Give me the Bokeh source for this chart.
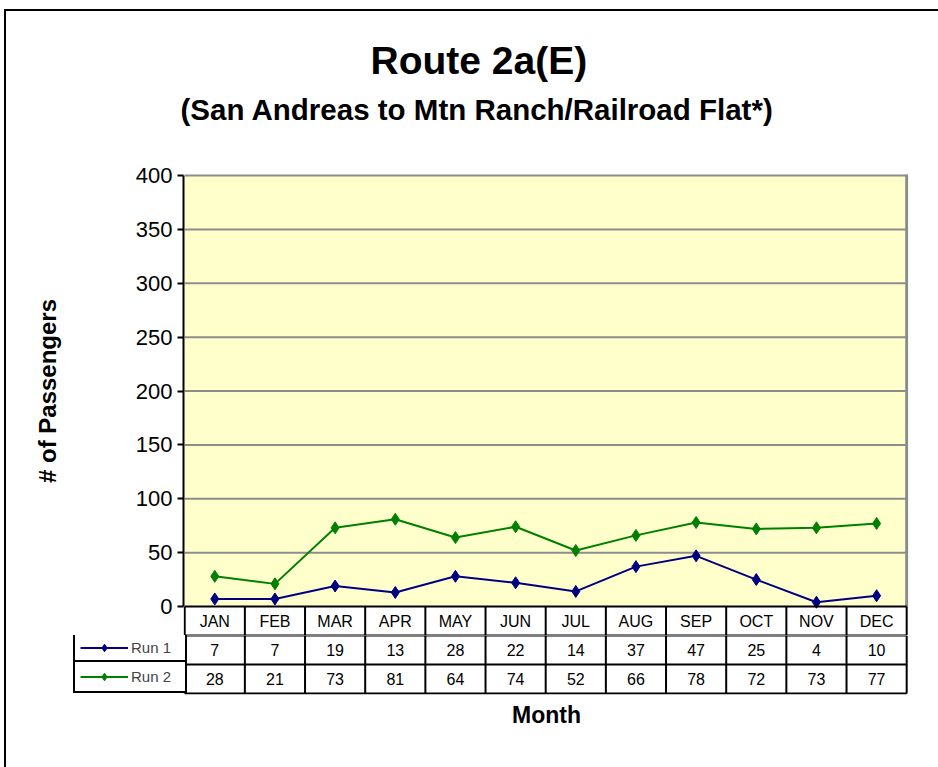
from bokeh.plotting import figure
from bokeh.layouts import column
from bokeh.models import (Range1d, FixedTicker, Legend, LegendItem, ColumnDataSource, LinearAxis, Title)
from bokeh.core.properties import value
from bokeh.embed import file_html
from bokeh.resources import INLINE

# ---------------- data ----------------
months = ["JAN", "FEB", "MAR", "APR", "MAY", "JUN", "JUL", "AUG", "SEP", "OCT", "NOV", "DEC"]
run1 = [7, 7, 19, 13, 28, 22, 14, 37, 47, 25, 4, 10]
run2 = [28, 21, 73, 81, 64, 74, 52, 66, 78, 72, 73, 77]
series_names = ["Run 1", "Run 2"]
series_colors = ["#000080", "#008000"]
y_ticks = [0, 50, 100, 150, 200, 250, 300, 350, 400]
title_text = "Route 2a(E)"
subtitle_text = "(San Andreas to Mtn Ranch/Railroad Flat*)"
y_label = "# of Passengers"
x_label = "Month"

FONT = "Liberation Sans"
n = len(months)
xs = [i + 0.5 for i in range(n)]
series = [run1, run2]

# ---------------- geometry ----------------
W, H = 938, 767
PLOT_L, PLOT_R = 183, 908          # plot area left/right (px)
PLOT_T, PLOT_B = 175, 606          # plot area top/bottom (px)
ROW_PX = 29                        # table row height (px)
LEG_L = 73                         # left edge of the legend column (px)
Y_MAX = y_ticks[-1]
PX_PER_Y = (PLOT_B - PLOT_T) / Y_MAX
ROW = ROW_PX / PX_PER_Y            # table row height in y units
X_MIN, X_MAX = -0.02, n + 0.03
PX_PER_X = (PLOT_R - PLOT_L) / (X_MAX - X_MIN)

TOP_H = PLOT_B + ROW_PX            # top figure ends under the header row
BOT_H = H - TOP_H
GRID = "#8c8c8c"

# ---------------- top figure: plot + month header row ----------------
# the frame reaches one row above the plot area so that it is centred on the plot area
p = figure(width=W, height=TOP_H, output_backend="svg", toolbar_location=None,
           x_range=Range1d(X_MIN, X_MAX), y_range=Range1d(-ROW, Y_MAX + ROW),
           min_border_left=PLOT_L, min_border_right=W - PLOT_R,
           min_border_top=PLOT_T - ROW_PX, min_border_bottom=0,
           x_axis_location=None, tools="")
p.background_fill_color = "white"
p.border_fill_color = None
p.outline_line_color = None

ya = p.yaxis[0]
ya.ticker = FixedTicker(ticks=y_ticks)
ya.bounds = (0, Y_MAX)
ya.axis_line_color = "black"
ya.axis_line_width = 2
ya.major_tick_line_color = "black"
ya.major_tick_line_width = 2
ya.major_tick_in = 0
ya.major_tick_out = 6
ya.minor_tick_line_color = None
ya.major_label_text_font = FONT
ya.major_label_text_font_size = "22px"
ya.major_label_text_color = "black"
ya.major_label_standoff = 5
ya.axis_label = y_label
ya.axis_label_text_font = FONT
ya.axis_label_text_font_style = "bold"
ya.axis_label_text_font_size = "24px"
ya.axis_label_text_color = "black"
ya.axis_label_standoff = 72

p.xgrid.visible = False
p.ygrid.visible = False

# titles
p.add_layout(Title(text=subtitle_text, align="left", offset=180 - PLOT_L,
                   standoff=42, text_font=FONT, text_font_style="bold",
                   text_font_size="29.5px", text_color="black"), "above")
p.add_layout(Title(text=title_text, align="left", offset=370 - PLOT_L,
                   standoff=-24, text_font=FONT, text_font_style="bold",
                   text_font_size="39px", text_color="black"), "above")

# yellow plot area, its grid lines and border
p.quad(left=[0], right=[n], bottom=[0], top=[Y_MAX], fill_color="#FFFFCC", line_color=None)
p.segment(x0=[0] * (len(y_ticks) - 1), y0=y_ticks[1:], x1=[n] * (len(y_ticks) - 1), y1=y_ticks[1:],
          line_color=GRID, line_width=2)
p.segment(x0=[n], y0=[0], x1=[n], y1=[Y_MAX + 1], line_color=GRID, line_width=3)

for vals, color in zip(series, series_colors):
    src = ColumnDataSource(dict(x=xs, y=vals))
    p.line("x", "y", source=src, line_color=color, line_width=2)
    p.scatter("x", "y", source=src, marker="diamond", size=12, fill_color=color, line_color=color)

# header row grid + month names
p.segment(x0=[0, 0], y0=[0, -ROW], x1=[n, n], y1=[0, -ROW], line_color="black", line_width=2)
vx = list(range(n + 1))
p.segment(x0=vx, y0=[-ROW] * (n + 1), x1=vx, y1=[0] * (n + 1), line_color="black", line_width=2)
p.text(x=xs, y=[-0.5 * ROW] * n, text=months, text_font=value(FONT), text_font_size="16px",
       text_align="center", text_baseline="middle", text_color="black")

# ---------------- bottom figure: value rows + legend column ----------------
BOT_FRAME_PX = 2 * ROW_PX + 1
BL_B = LEG_L - 2
q = figure(width=W, height=BOT_H, output_backend="svg", toolbar_location=None,
           x_range=Range1d(X_MIN - (PLOT_L - BL_B) / PX_PER_X, X_MAX),
           y_range=Range1d(-ROW - BOT_FRAME_PX / PX_PER_Y, -ROW),
           min_border_left=BL_B, min_border_right=W - PLOT_R,
           min_border_top=0, min_border_bottom=BOT_H - BOT_FRAME_PX,
           x_axis_location=None, y_axis_location=None, tools="")
q.background_fill_color = "white"
q.border_fill_color = None
q.outline_line_color = None
q.grid.visible = False

xa = LinearAxis(ticker=FixedTicker(ticks=[]), axis_line_color=None,
                major_tick_line_color=None, minor_tick_line_color=None,
                major_tick_out=0, major_tick_in=0, major_label_standoff=0,
                major_label_text_font_size="0px")
q.add_layout(xa, "below")
q.add_layout(Title(text=x_label, align="left", offset=(PLOT_L + PLOT_R) / 2 - 34 - BL_B,
                   standoff=10, text_font=FONT, text_font_style="bold",
                   text_font_size="23px", text_color="black"), "below")

hy = [-ROW, -2 * ROW, -3 * ROW]
q.segment(x0=[0] * 3, y0=hy, x1=[n] * 3, y1=hy, line_color="black", line_width=2)
q.segment(x0=vx, y0=[-3 * ROW] * (n + 1), x1=vx, y1=[-ROW] * (n + 1), line_color="black", line_width=2)
for k, vals in enumerate(series):
    q.text(x=xs, y=[-(1.5 + k) * ROW] * n, text=[str(v) for v in vals], text_font=value(FONT),
           text_font_size="16px", text_align="center", text_baseline="middle", text_color="black")

# series renderers for the legend keys (their values lie above this strip)
for k, (name, vals, color) in enumerate(zip(series_names, series, series_colors)):
    src = ColumnDataSource(dict(x=xs, y=vals))
    l = q.line("x", "y", source=src, line_color=color, line_width=2)
    s = q.scatter("x", "y", source=src, marker="diamond", size=11, fill_color=color, line_color=color)
    leg = Legend(items=[LegendItem(label=name, renderers=[l, s])],
                 location=(LEG_L - BL_B, 1 + (1 - k) * ROW_PX),
                 orientation="vertical",
                 border_line_color="black", border_line_width=2, border_line_alpha=1,
                 background_fill_color="white", background_fill_alpha=1,
                 padding=5, margin=0, spacing=0,
                 glyph_width=48, glyph_height=ROW_PX - 10,
                 label_height=ROW_PX - 10, label_width=PLOT_L - LEG_L - 61, label_standoff=3,
                 label_text_font=FONT, label_text_font_size="15px")
    q.add_layout(leg, "center")

layout = column(column(p), column(q), spacing=0)
layout.styles = {"box-shadow": "inset 4px 9px 0 0 white, inset 6px 11px 0 0 black"}

open("out.html", "w").write(file_html(layout, INLINE))
